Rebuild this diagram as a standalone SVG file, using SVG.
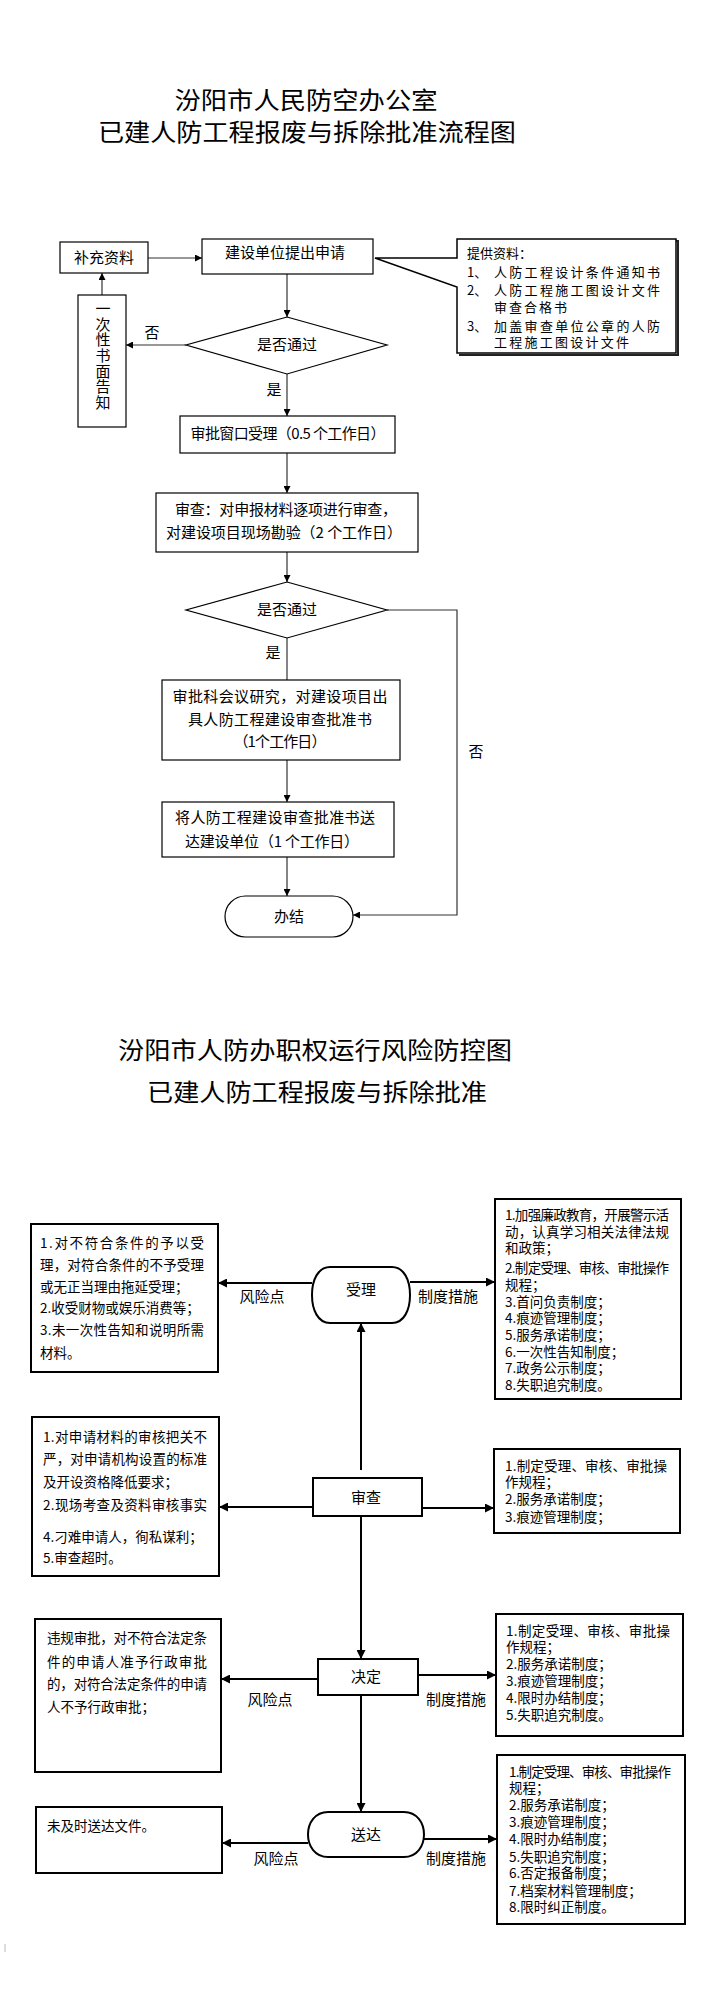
<svg xmlns="http://www.w3.org/2000/svg" width="704" height="2000" viewBox="0 0 704 2000">
<style>
text{font-family:"Noto Sans CJK SC","Liberation Sans",sans-serif;fill:#000}
.t{font-size:24px}
.m{font-size:15px;text-anchor:middle}
.c{font-size:13px}
.s{font-size:13.5px}
.l{font-size:15px;text-anchor:middle}
.b1{fill:#fff;stroke:#000;stroke-width:1.2}
.b2{fill:#fff;stroke:#000;stroke-width:2}
.ln1{fill:none;stroke:#333;stroke-width:1.2}
.ln2{fill:none;stroke:#000;stroke-width:2}
</style>
<defs>
<marker id="a1" viewBox="0 0 10 10" refX="10" refY="5" markerWidth="8" markerHeight="7" markerUnits="userSpaceOnUse" orient="auto"><path d="M0,0 L10,5 L0,10 z" fill="#000"/></marker>
<marker id="a2" viewBox="0 0 10 10" refX="10" refY="5" markerWidth="10" markerHeight="9" markerUnits="userSpaceOnUse" orient="auto"><path d="M0,0 L10,5 L0,10 z" fill="#000"/></marker>
</defs>
<rect width="704" height="2000" fill="#fff"/>

<g id="titles">
<text class="t" x="306" y="109" text-anchor="middle" textLength="263" lengthAdjust="spacingAndGlyphs">汾阳市人民防空办公室</text>
<text class="t" x="307" y="141" text-anchor="middle" textLength="418" lengthAdjust="spacingAndGlyphs">已建人防工程报废与拆除批准流程图</text>
<text class="t" x="315" y="1059" text-anchor="middle" textLength="394" lengthAdjust="spacingAndGlyphs">汾阳市人防办职权运行风险防控图</text>
<text class="t" x="317" y="1101" text-anchor="middle" textLength="340" lengthAdjust="spacingAndGlyphs">已建人防工程报废与拆除批准</text>
</g>

<g id="connectors-top">
<line class="ln1" x1="148" y1="258" x2="202" y2="258" marker-end="url(#a1)"/>
<line class="ln1" x1="287" y1="274" x2="287" y2="317" marker-end="url(#a1)"/>
<line class="ln1" x1="186" y1="345" x2="126" y2="345" marker-end="url(#a1)"/>
<line class="ln1" x1="102" y1="295" x2="102" y2="273" marker-end="url(#a1)"/>
<line class="ln1" x1="287" y1="374" x2="287" y2="416" marker-end="url(#a1)"/>
<line class="ln1" x1="287" y1="453" x2="287" y2="493" marker-end="url(#a1)"/>
<line class="ln1" x1="287" y1="552" x2="287" y2="582" marker-end="url(#a1)"/>
<line class="ln1" x1="287" y1="638" x2="287" y2="680"/>
<line class="ln1" x1="287" y1="760" x2="287" y2="802" marker-end="url(#a1)"/>
<line class="ln1" x1="287" y1="857" x2="287" y2="896" marker-end="url(#a1)"/>
<polyline class="ln1" points="387,610 457,610 457,915 353,915" marker-end="url(#a1)"/>
<text class="m" x="152" y="338">否</text>
<text class="m" x="274" y="395">是</text>
<text class="m" x="273" y="658">是</text>
<text class="m" x="476" y="757">否</text>
</g>

<g id="n-buchong">
<rect class="b1" x="60" y="242" width="88" height="31"/>
<text class="m" x="104" y="263">补充资料</text>
</g>
<g id="n-shenqing">
<rect class="b1" x="202" y="239" width="171" height="35"/>
<text class="m" x="285" y="258">建设单位提出申请</text>
</g>
<g id="n-callout">
<path d="M459,241 H678 V355 H459" fill="none" stroke="#222" stroke-width="2"/>
<path d="M457,239 H676 V353 H457 V287 L375,258 H457 Z" fill="#fff" stroke="#000" stroke-width="1.5"/>
<text class="c" x="467" y="258">提供资料：</text>
<text class="c" x="467" y="277">1、</text>
<text class="c" x="494" y="277" textLength="166">人防工程设计条件通知书</text>
<text class="c" x="467" y="295">2、</text>
<text class="c" x="494" y="295" textLength="166">人防工程施工图设计文件</text>
<text class="c" x="494" y="312" textLength="73">审查合格书</text>
<text class="c" x="467" y="331">3、</text>
<text class="c" x="494" y="331" textLength="166">加盖审查单位公章的人防</text>
<text class="c" x="494" y="347" textLength="135">工程施工图设计文件</text>
</g>
<g id="n-decision1">
<polygon class="b1" points="287,317 387,345 287,374 186,345"/>
<text class="m" x="287" y="350">是否通过</text>
</g>
<g id="n-gaozhi">
<rect class="b1" x="78" y="295" width="48" height="132"/>
<text x="103" y="301" font-size="15" writing-mode="tb" letter-spacing="0.6">一次性书面告知</text>
</g>
<g id="n-shouli-top">
<rect class="b1" x="180" y="416" width="215" height="37"/>
<text class="m" x="288" y="439" textLength="195">审批窗口受理（0.5 个工作日）</text>
</g>
<g id="n-shencha-top">
<rect class="b1" x="156" y="493" width="262" height="59"/>
<text class="m" x="286" y="515" textLength="222">审查：对申报材料逐项进行审查，</text>
<text class="m" x="284" y="538" textLength="236">对建设项目现场勘验（2 个工作日）</text>
</g>
<g id="n-decision2">
<polygon class="b1" points="287,582 387,610 287,638 186,610"/>
<text class="m" x="287" y="615">是否通过</text>
</g>
<g id="n-yanjiu">
<rect class="b1" x="162" y="680" width="238" height="80"/>
<text class="m" x="280" y="702" textLength="215">审批科会议研究，对建设项目出</text>
<text class="m" x="280" y="725" textLength="184">具人防工程建设审查批准书</text>
<text class="m" x="280" y="747" textLength="93">（1个工作日）</text>
</g>
<g id="n-songda-top">
<rect class="b1" x="162" y="802" width="232" height="55"/>
<text class="m" x="275" y="823" textLength="200">将人防工程建设审查批准书送</text>
<text class="m" x="272" y="847" textLength="174">达建设单位（1 个工作日）</text>
</g>
<g id="n-banjie">
<rect class="b1" x="225" y="896" width="128" height="41" rx="20.5"/>
<text class="m" x="289" y="922">办结</text>
</g>

<g id="connectors-bottom">
<line class="ln2" x1="312" y1="1283" x2="218" y2="1283" marker-end="url(#a2)"/>
<line class="ln2" x1="410" y1="1282" x2="495" y2="1282" marker-end="url(#a2)"/>
<line class="ln2" x1="361" y1="1470" x2="361" y2="1323" marker-end="url(#a2)"/>
<line class="ln2" x1="313" y1="1507" x2="219" y2="1507" marker-end="url(#a2)"/>
<line class="ln2" x1="422" y1="1508" x2="494" y2="1508" marker-end="url(#a2)"/>
<line class="ln2" x1="361" y1="1516" x2="361" y2="1659" marker-end="url(#a2)"/>
<line class="ln2" x1="318" y1="1679" x2="221" y2="1679" marker-end="url(#a2)"/>
<line class="ln2" x1="418" y1="1675" x2="496" y2="1675" marker-end="url(#a2)"/>
<line class="ln2" x1="361" y1="1695" x2="361" y2="1812" marker-end="url(#a2)"/>
<line class="ln2" x1="308" y1="1843" x2="222" y2="1843" marker-end="url(#a2)"/>
<line class="ln2" x1="424" y1="1839" x2="497" y2="1839" marker-end="url(#a2)"/>
<text class="l" x="262" y="1302">风险点</text>
<text class="l" x="448" y="1302">制度措施</text>
<text class="l" x="270" y="1705">风险点</text>
<text class="l" x="456" y="1705">制度措施</text>
<text class="l" x="276" y="1864">风险点</text>
<text class="l" x="456" y="1864">制度措施</text>
</g>

<g id="n-shouli">
<path class="b2" d="M330,1267 H392 C404,1267 410,1280 410,1295 C410,1310 404,1323 392,1323 H330 C318,1323 312,1310 312,1295 C312,1280 318,1267 330,1267 Z"/>
<text class="l" x="361" y="1295">受理</text>
</g>
<g id="r-shouli">
<rect class="b2" x="31" y="1224" width="187" height="148"/>
<text class="s" x="40" y="1248" textLength="164">1.对不符合条件的予以受</text>
<text class="s" x="40" y="1270" textLength="164">理，对符合条件的不予受理</text>
<text class="s" x="40" y="1292">或无正当理由拖延受理；</text>
<text class="s" x="40" y="1313">2.收受财物或娱乐消费等；</text>
<text class="s" x="40" y="1335" textLength="164">3.未一次性告知和说明所需</text>
<text class="s" x="40" y="1358">材料。</text>
</g>
<g id="m-shouli">
<rect class="b2" x="495" y="1199" width="186" height="200"/>
<text class="s" x="505" y="1220" textLength="164">1.加强廉政教育，开展警示活</text>
<text class="s" x="505" y="1237" textLength="164">动，认真学习相关法律法规</text>
<text class="s" x="505" y="1253">和政策；</text>
<text class="s" x="505" y="1273" textLength="164">2.制定受理、审核、审批操作</text>
<text class="s" x="505" y="1290">规程；</text>
<text class="s" x="505" y="1307">3.首问负责制度；</text>
<text class="s" x="505" y="1323">4.痕迹管理制度；</text>
<text class="s" x="505" y="1340">5.服务承诺制度；</text>
<text class="s" x="505" y="1357">6.一次性告知制度；</text>
<text class="s" x="505" y="1373">7.政务公示制度；</text>
<text class="s" x="505" y="1390">8.失职追究制度。</text>
</g>

<g id="n-shencha">
<rect class="b2" x="313" y="1478" width="109" height="38"/>
<text class="l" x="366" y="1503">审查</text>
</g>
<g id="r-shencha">
<rect class="b2" x="32" y="1417" width="187" height="159"/>
<text class="s" x="43" y="1442" textLength="164">1.对申请材料的审核把关不</text>
<text class="s" x="43" y="1464" textLength="164">严，对申请机构设置的标准</text>
<text class="s" x="43" y="1487">及开设资格降低要求；</text>
<text class="s" x="43" y="1510" textLength="164">2.现场考查及资料审核事实</text>
<text class="s" x="43" y="1542">4.刁难申请人，徇私谋利；</text>
<text class="s" x="43" y="1563">5.审查超时。</text>
</g>
<g id="m-shencha">
<rect class="b2" x="494" y="1449" width="186" height="84"/>
<text class="s" x="505" y="1471" textLength="162">1.制定受理、审核、审批操</text>
<text class="s" x="505" y="1487">作规程；</text>
<text class="s" x="505" y="1504">2.服务承诺制度；</text>
<text class="s" x="505" y="1522">3.痕迹管理制度；</text>
</g>

<g id="n-jueding">
<rect class="b2" x="318" y="1659" width="100" height="36"/>
<text class="l" x="366" y="1682">决定</text>
</g>
<g id="r-jueding">
<rect class="b2" x="35" y="1619" width="186" height="153"/>
<text class="s" x="47" y="1643" textLength="160">违规审批，对不符合法定条</text>
<text class="s" x="47" y="1667" textLength="160">件的申请人准予行政审批</text>
<text class="s" x="47" y="1689" textLength="160">的，对符合法定条件的申请</text>
<text class="s" x="47" y="1712">人不予行政审批；</text>
</g>
<g id="m-jueding">
<rect class="b2" x="496" y="1614" width="187" height="122"/>
<text class="s" x="506" y="1636" textLength="164">1.制定受理、审核、审批操</text>
<text class="s" x="506" y="1652">作规程；</text>
<text class="s" x="506" y="1669">2.服务承诺制度；</text>
<text class="s" x="506" y="1686">3.痕迹管理制度；</text>
<text class="s" x="506" y="1703">4.限时办结制度；</text>
<text class="s" x="506" y="1720">5.失职追究制度。</text>
</g>

<g id="n-songda">
<path class="b2" d="M328,1812 H404 C417,1812 424,1823 424,1834.5 C424,1846 417,1857 404,1857 H328 C315,1857 308,1846 308,1834.5 C308,1823 315,1812 328,1812 Z"/>
<text class="l" x="366" y="1840">送达</text>
</g>
<g id="r-songda">
<rect class="b2" x="36" y="1807" width="186" height="66"/>
<text class="s" x="47" y="1831">未及时送达文件。</text>
</g>
<g id="m-songda">
<rect class="b2" x="497" y="1755" width="188" height="169"/>
<text class="s" x="509" y="1777" textLength="162">1.制定受理、审核、审批操作</text>
<text class="s" x="509" y="1793">规程；</text>
<text class="s" x="509" y="1810">2.服务承诺制度；</text>
<text class="s" x="509" y="1827">3.痕迹管理制度；</text>
<text class="s" x="509" y="1844">4.限时办结制度；</text>
<text class="s" x="509" y="1862">5.失职追究制度；</text>
<text class="s" x="509" y="1878">6.否定报备制度；</text>
<text class="s" x="509" y="1896">7.档案材料管理制度；</text>
<text class="s" x="509" y="1912">8.限时纠正制度。</text>
</g>
<line x1="5" y1="1944" x2="5" y2="1952" stroke="#bbb" stroke-width="1"/>
</svg>
